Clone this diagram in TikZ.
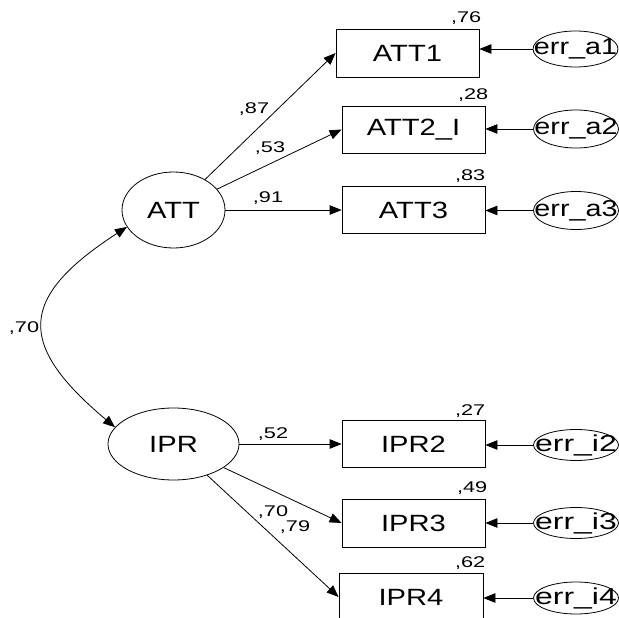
\documentclass[tikz,border=0pt]{standalone}
\usepackage{fontspec}
\setmainfont{Liberation Sans}
\newfontfamily\amos[FakeStretch=1.24]{Liberation Sans}
\newfontfamily\amosl[FakeStretch=1.4]{Liberation Sans}
\newfontfamily\amose[FakeStretch=1.25]{Liberation Sans}
\newfontfamily\amosw[FakeStretch=1.39]{Liberation Sans}
\usetikzlibrary{arrows.meta,shapes.geometric}
\begin{document}
\begin{tikzpicture}[x=1pt,y=1pt,
  obsbox/.style={draw, line width=0.8pt, minimum width=143pt, minimum height=47pt, inner sep=0pt, font=\amos\fontsize{23.5}{25}\selectfont},
  latent/.style={draw, ellipse, line width=0.8pt, inner sep=0pt, font=\amos\fontsize{23.5}{25}\selectfont},
  errell/.style={draw, ellipse, line width=0.8pt, minimum width=85pt, inner sep=0pt},
  errtxta/.style={inner sep=0pt, font=\amose\fontsize{23}{25}\selectfont},
  errtxti/.style={inner sep=0pt, font=\amosw\fontsize{23}{25}\selectfont},
  lbl/.style={inner sep=0pt, font=\amosl\fontsize{15.5}{17}\selectfont},
  arr/.style={line width=0.8pt, -{Triangle[length=12pt,width=9.5pt]}},
  darr/.style={line width=0.8pt, {Triangle[length=12pt,width=9.5pt]}-{Triangle[length=12pt,width=9.5pt]}}
]
\useasboundingbox (0,0) rectangle (619,-618);
\clip (0,0) rectangle (619,-618);

% latent variables
\node[latent, minimum width=103pt, minimum height=76pt] (ATT) at (173.5,-210) {ATT};
\node[latent, minimum width=131pt, minimum height=72pt] (IPR) at (173.5,-444) {IPR};

% observed variables
\node[obsbox, minimum height=48pt] (ATT1) at (407.5,-53) {ATT1};
\node[obsbox] (ATT2) at (413.5,-129.5) {ATT2\_I};
\node[obsbox] (ATT3) at (413.5,-210) {ATT3};
\node[obsbox] (IPR2) at (413.5,-444) {IPR2};
\node[obsbox, minimum height=48pt] (IPR3) at (413.5,-523) {IPR3};
\node[obsbox, minimum width=144pt, minimum height=48pt] (IPR4) at (411,-597) {IPR4};

% error terms
\node[errell, minimum height=36pt, label={[errtxta]center:err\_a1}] (ea1) at (575.5,-49) {};
\node[errell, minimum height=38pt, label={[errtxta]center:err\_a2}] (ea2) at (576,-129) {};
\node[errell, minimum height=38pt, label={[errtxta]center:err\_a3}] (ea3) at (576,-210.5) {};
\node[errell, minimum height=31pt, label={[errtxti]center:err\_i2}] (ei2) at (576,-445) {};
\node[errell, minimum height=31pt, label={[errtxti]center:err\_i3}] (ei3) at (576,-523) {};
\node[errell, minimum height=32pt, label={[errtxti]center:err\_i4}] (ei4) at (576,-598) {};

% loadings
\draw[arr] (ATT) -- (ATT1.west);
\draw[arr] (ATT) -- (ATT2.west);
\draw[arr] (ATT) -- (ATT -| ATT3.west);
\draw[arr] (IPR) -- (IPR -| IPR2.west);
\draw[arr] (IPR) -- (IPR3.west);
\draw[arr] (IPR) -- (IPR4.west);

% error paths
\draw[arr] (ea1) -- (ea1 -| ATT1.east);
\draw[arr] (ea2) -- (ea2 -| ATT2.east);
\draw[arr] (ea3) -- (ea3 -| ATT3.east);
\draw[arr] (ei2) -- (ei2 -| IPR2.east);
\draw[arr] (ei3) -- (ei3 -| IPR3.east);
\draw[arr] (ei4) -- (ei4 -| IPR4.east);

% covariance
\draw[darr] (ATT.200) to[out=213, in=140, looseness=1.65] (IPR.164);

% coefficient labels
\node[lbl] (l87) at (254,-109) {,87};
\node[lbl] (l53) at (270,-148) {,53};
\node[lbl] (l91) at (268,-198) {,91};
\node[lbl] (l52) at (273,-434) {,52};
\node[lbl] (l70b) at (273,-512) {,70};
\node[lbl] (l79) at (295,-527) {,79};
\node[lbl] (l70) at (24,-328) {,70};

% squared multiple correlations
\node[lbl, anchor=base east] (r1) at ([shift={(2pt,6pt)}]ATT1.north east) {,76};
\node[lbl, anchor=base east] (r2) at ([shift={(3pt,6pt)}]ATT2.north east) {,28};
\node[lbl, anchor=base east] (r3) at ([shift={(0pt,6pt)}]ATT3.north east) {,83};
\node[lbl, anchor=base east] (r4) at ([shift={(0pt,5pt)}]IPR2.north east) {,27};
\node[lbl, anchor=base east] (r5) at ([shift={(2pt,6pt)}]IPR3.north east) {,49};
\node[lbl, anchor=base east] (r6) at ([shift={(2pt,5pt)}]IPR4.north east) {,62};
\end{tikzpicture}
\end{document}
